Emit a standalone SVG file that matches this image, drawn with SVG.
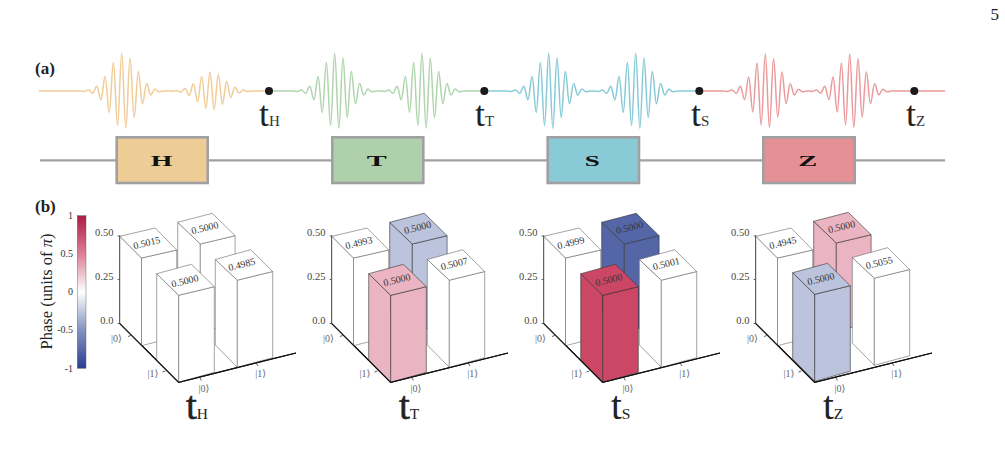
<svg xmlns="http://www.w3.org/2000/svg" width="1005" height="460" viewBox="0 0 1005 460">
<style>
text{font-family:"Liberation Serif","DejaVu Serif",serif;fill:#222}
.pan{font-weight:bold;font-size:17px}
.big{font-size:36px}
.bigb{font-size:39px;stroke:#222;stroke-width:.5}
.bign{font-size:39px}
.s1{font-size:15px;fill:#333;stroke:none}
.s2{font-size:15.5px;fill:#222;stroke:none}
.gate{font-weight:bold;font-size:15px;fill:#111;text-anchor:middle}
.wave{fill:none;stroke-width:1.5}
.w{vector-effect:non-scaling-stroke}
.box{stroke:#a0a0a3;stroke-width:2.6}
.ax{font-size:10.5px;text-anchor:end;fill:#444}
.ket{font-size:10px;text-anchor:middle;fill:#666}
.val{font-size:10px;text-anchor:middle;fill:#333}
.cb{font-size:10px;text-anchor:end;fill:#333}
.wh{fill:#fff;stroke:#666;stroke-width:.6}
.dark{stroke:#333;stroke-width:.6}
.axis{fill:none;stroke:#111;stroke-width:1.2}
.vax{fill:none;stroke:#444;stroke-width:1.3}
.tick{fill:none;stroke:#333;stroke-width:.8}
</style>
<defs>
<linearGradient id="cbar" x1="0" y1="0" x2="0" y2="1">
<stop offset="0" stop-color="#ae1c42"/>
<stop offset=".25" stop-color="#dc7f96"/>
<stop offset=".5" stop-color="#ffffff"/>
<stop offset=".75" stop-color="#8492c0"/>
<stop offset="1" stop-color="#2c3f90"/>
</linearGradient>
<path id="pk" class="w" d="M-41.5 0c1.51 0 2.64 .4 4.15 .4c1.51 0 2.64 -1.5 4.15 -1.5c1.51 0 2.64 3.5 4.15 3.5c1.51 0 2.64 -7.2 4.15 -7.2c1.51 0 2.64 13.6 4.15 13.6c1.51 0 2.64 -23.2 4.15 -23.2c1.51 0 2.64 35.8 4.15 35.8c1.51 0 2.64 -50 4.15 -50c1.51 0 2.64 63.2 4.15 63.2c1.51 0 2.64 -72.3 4.15 -72.3c1.51 0 2.64 74.9 4.15 74.9c1.51 0 2.64 -70.3 4.15 -70.3c1.51 0 2.64 59.7 4.15 59.7c1.51 0 2.64 -46 4.15 -46c1.51 0 2.64 32.1 4.15 32.1c1.51 0 2.64 -20.2 4.15 -20.2c1.51 0 2.64 11.5 4.15 11.5c1.51 0 2.64 -5.9 4.15 -5.9c1.51 0 2.64 2.75 4.15 2.75c1.51 0 2.64 -.85 4.15 -.85"/>
<g id="b00"><polygon points="0.2,236.3 21.8,258 21.8,345.7 0.2,324"/><polygon points="21.8,258 57,250 57,336.7 21.8,345.7"/><polygon points="0.2,236.3 35.5,228 57,250 21.8,258"/></g>
<g id="b10"><polygon points="58,222.3 80.6,244 80.6,332.3 58,310"/><polygon points="80.6,244 115.4,235.7 115.4,323.3 80.6,332.3"/><polygon points="58,222.3 92.6,213.3 115.4,235.7 80.6,244"/></g>
<g id="b01"><polygon points="37,273.7 59,295.3 59,382.3 37,360"/><polygon points="59,295.3 94.6,286.7 94.6,372.3 59,382.3"/><polygon points="37,273.7 71.8,264.3 94.6,286.7 59,295.3"/></g>
<g id="b11"><polygon points="95.6,259.5 117.6,280.2 117.6,367.3 95.6,345"/><polygon points="117.6,280.2 153,271.5 153,357.7 117.6,367.3"/><polygon points="95.6,259.5 131,249.7 153,271.5 117.6,280.2"/></g>
<g id="frame">
<path class="vax" d="M0 235.5V323.5"/>
<path class="tick" d="M0 236H-2M0 279.5H-2M0 323.5H-2M8.3 336.5L11 335.5M42.7 372L45.7 371M80 377.5L81.7 380.5M136.7 363.5L138.3 366"/>
<path class="axis" d="M0 323.3L59 382.3L176.3 353"/>
<text class="ax" x="-6.3" y="236">0.50</text>
<text class="ax" x="-6.3" y="280">0.25</text>
<text class="ax" x="-6.3" y="324">0.0</text>
<text class="ket" x="-3.3" y="342">|0⟩</text>
<text class="ket" x="33.3" y="377">|1⟩</text>
<text class="ket" x="84.3" y="391.5">|0⟩</text>
<text class="ket" x="141" y="377">|1⟩</text>
</g>
</defs>
<rect width="1005" height="460" fill="#fff"/>
<text x="990.5" y="20" font-size="17" fill="#222">5</text>
<text class="pan" x="35" y="74">(a)</text>
<text class="pan" x="35" y="211.5">(b)</text>
<g id="connectors">
<path class="wave" stroke="#f0cc98" d="M39 91H80.2M163.2 91H168.5M251.5 91H269"/>
<path class="wave" stroke="#b0d4ae" d="M269 91H293.2M376.2 91H380.5M463.5 91H484"/>
<path class="wave" stroke="#88cbd6" d="M484 91H507.2M590.2 91H594.2M677.2 91H699"/>
<path class="wave" stroke="#ea9a9c" d="M699 91H723.8M806.8 91H808.2M891.2 91H945"/>
<path d="M40 160.3H945" fill="none" stroke="#a0a0a3" stroke-width="2.2"/>
</g>
<g id="pulses" class="wave">
<use href="#pk" stroke="#f0cc98" transform="translate(121.7 91)"/>
<use href="#pk" stroke="#f0cc98" transform="translate(210 91) scale(1 .5)"/>
<use href="#pk" stroke="#b0d4ae" transform="translate(334.7 91)"/>
<use href="#pk" stroke="#b0d4ae" transform="translate(422 91)"/>
<use href="#pk" stroke="#88cbd6" transform="translate(548.7 91)"/>
<use href="#pk" stroke="#88cbd6" transform="translate(635.7 91)"/>
<use href="#pk" stroke="#ea9a9c" transform="translate(765.3 91) scale(1 .98)"/>
<use href="#pk" stroke="#ea9a9c" transform="translate(849.7 91) scale(1 .98)"/>
</g>
<g id="time-H"><circle cx="269" cy="91" r="4" fill="#1a1a1a"/><text class="big" x="259" y="126">t<tspan class="s1">H</tspan></text></g>
<g id="time-T"><circle cx="484.3" cy="91" r="4" fill="#1a1a1a"/><text class="big" x="475" y="126">t<tspan class="s1">T</tspan></text></g>
<g id="time-S"><circle cx="699.3" cy="91" r="4" fill="#1a1a1a"/><text class="big" x="691" y="126">t<tspan class="s1">S</tspan></text></g>
<g id="time-Z"><circle cx="914.3" cy="91" r="4" fill="#1a1a1a"/><text class="big" x="906" y="126">t<tspan class="s1">Z</tspan></text></g>
<g id="gate-H"><rect class="box" x="116.7" y="137.3" width="91" height="45.7" fill="#eecc96"/><text class="gate" x="161.7" y="165.7" textLength="21.7" lengthAdjust="spacingAndGlyphs">H</text></g>
<g id="gate-T"><rect class="box" x="332.3" y="137.3" width="91" height="45.7" fill="#aed0aa"/><text class="gate" x="376.7" y="165.7" textLength="20" lengthAdjust="spacingAndGlyphs">T</text></g>
<g id="gate-S"><rect class="box" x="547.7" y="137.3" width="91.3" height="45.7" fill="#88cad5"/><text class="gate" x="592.3" y="165.7" textLength="15" lengthAdjust="spacingAndGlyphs">S</text></g>
<g id="gate-Z"><rect class="box" x="763.3" y="137.3" width="91.4" height="45.7" fill="#e59094"/><text class="gate" x="807.7" y="165.7" textLength="19" lengthAdjust="spacingAndGlyphs">Z</text></g>
<g id="colorbar">
<rect x="77.3" y="215.7" width="8.7" height="152.6" fill="url(#cbar)" stroke="#555" stroke-width=".4"/>
<text class="cb" x="73" y="219">1</text>
<text class="cb" x="73" y="257">0.5</text>
<text class="cb" x="73" y="295">0</text>
<text class="cb" x="73" y="333">-0.5</text>
<text class="cb" x="73" y="372">-1</text>
<text transform="translate(52 291.5) rotate(-90)" text-anchor="middle" font-size="16.5">Phase (units of <tspan font-style="italic">π</tspan>)</text>
</g>
<g id="chart-H" transform="translate(119.7 0)">
<use href="#frame"/>
<use href="#b10" class="wh"/><use href="#b00" class="wh"/><use href="#b11" class="wh"/><use href="#b01" class="wh"/>
<path class="axis" d="M0 323.3L59 382.3L176.3 353"/>
<text class="val" transform="translate(27.8 246) rotate(-14)">0.5015</text>
<text class="val" transform="translate(86 231) rotate(-14)">0.5000</text>
<text class="val" transform="translate(66 284.2) rotate(-14)">0.5000</text>
<text class="val" transform="translate(122.8 267.7) rotate(-14)">0.4985</text>
</g>
<g id="chart-T" transform="translate(331.7 0)">
<use href="#frame"/>
<use href="#b10" class="dark" fill="#bcc3dc"/><use href="#b00" class="wh"/><use href="#b11" class="wh"/><use href="#b01" class="dark" fill="#ebb4c2"/>
<path class="axis" d="M0 323.3L59 382.3L176.3 353"/>
<text class="val" transform="translate(28 246) rotate(-14)">0.4993</text>
<text class="val" transform="translate(86.7 230.7) rotate(-14)">0.5000</text>
<text class="val" transform="translate(66 283) rotate(-14)">0.5000</text>
<text class="val" transform="translate(123.3 267) rotate(-14)">0.5007</text>
</g>
<g id="chart-S" transform="translate(543.7 0)">
<use href="#frame"/>
<use href="#b10" class="dark" fill="#5566a6"/><use href="#b00" class="wh"/><use href="#b11" class="wh"/><use href="#b01" class="dark" fill="#cc4666"/>
<path class="axis" d="M0 323.3L59 382.3L176.3 353"/>
<text class="val" transform="translate(28 246) rotate(-14)">0.4999</text>
<text class="val" transform="translate(86.7 230.7) rotate(-14)">0.5000</text>
<text class="val" transform="translate(66 283) rotate(-14)">0.5000</text>
<text class="val" transform="translate(123.3 267) rotate(-14)">0.5001</text>
</g>
<g id="chart-Z" transform="translate(755.7 0)">
<use href="#frame"/>
<use href="#b10" class="dark" fill="#ebb4c2" transform="translate(0 -1)"/><use href="#b00" class="wh"/><use href="#b11" class="wh" transform="translate(1 -2)"/><use href="#b01" class="dark" fill="#bcc3dc" transform="translate(0 -1)"/>
<path class="axis" d="M0 323.3L59 382.3L176.3 353"/>
<text class="val" transform="translate(28 246) rotate(-14)">0.4945</text>
<text class="val" transform="translate(86.7 230) rotate(-14)">0.5000</text>
<text class="val" transform="translate(66 282) rotate(-14)">0.5000</text>
<text class="val" transform="translate(124.3 266) rotate(-14)">0.5055</text>
</g>
<text class="bigb" x="186" y="419">t<tspan class="s2">H</tspan></text>
<text class="bigb" x="399" y="419">t<tspan class="s2">T</tspan></text>
<text class="bign" x="611" y="419">t<tspan class="s2">S</tspan></text>
<text class="bign" x="823" y="419">t<tspan class="s2">Z</tspan></text>
</svg>
